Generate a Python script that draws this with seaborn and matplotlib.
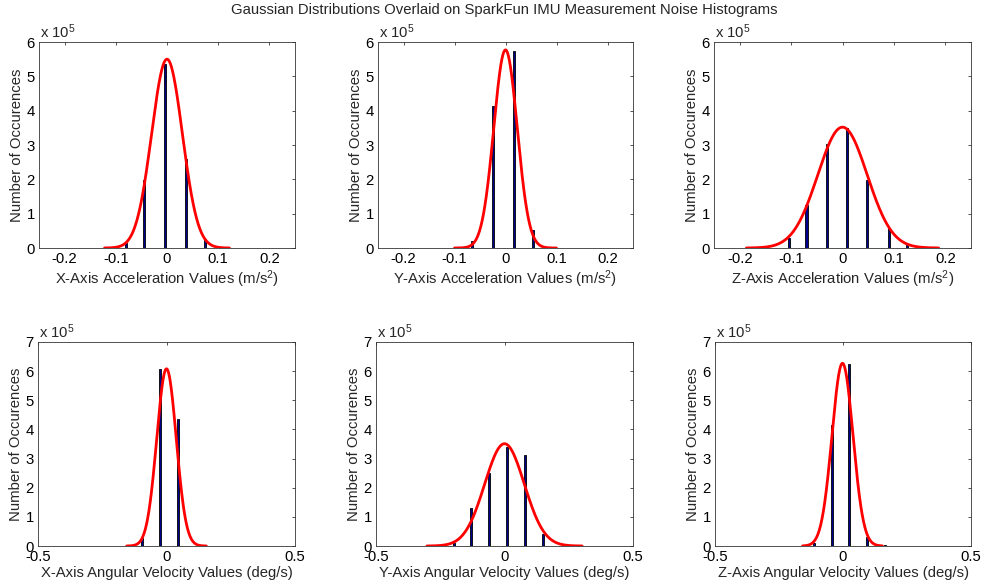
import numpy as np
import pandas as pd
import matplotlib
matplotlib.use("Agg")
import matplotlib.pyplot as plt
import seaborn as sns
from matplotlib.ticker import FuncFormatter, FormatStrFormatter

# histogram bars (bin centre, count)
xacc_pos = [-0.081, -0.044, -0.004, 0.037, 0.075, 0.151]
xacc_cnt = [15000, 199000, 535000, 259000, 26000, 1000]
yacc_pos = [-0.065, -0.024, 0.016, 0.054, 0.133]
yacc_cnt = [19000, 413000, 575000, 52000, 1000]
zacc_pos = [-0.104, -0.070, -0.031, 0.008, 0.047, 0.091, 0.126]
zacc_cnt = [29000, 126000, 304000, 350000, 199000, 58000, 10000]
xgyr_pos = [-0.166, -0.095, -0.026, 0.045, 0.179]
xgyr_cnt = [1000, 26000, 609000, 437000, 1000]
ygyr_pos = [-0.195, -0.131, -0.062, 0.010, 0.079, 0.148]
ygyr_cnt = [9000, 129000, 249000, 340000, 312000, 40000]
zgyr_pos = [-0.182, -0.112, -0.044, 0.023, 0.094, 0.163]
zgyr_cnt = [1000, 9000, 414000, 626000, 32000, 2000]

# fitted gaussians: mean, sigma, peak count, half-span of drawn curve
gauss_mu = [0.0, 0.0, 0.0, 0.0, 0.0, -0.002]
gauss_sigma = [0.030, 0.023, 0.048, 0.038, 0.077, 0.041]
gauss_peak = [550000, 577000, 352000, 608000, 351000, 627000]
gauss_span = [0.122, 0.100, 0.187, 0.155, 0.302, 0.156]

xlabels = ['X-Axis Acceleration Values (m/s$^2$)',
           'Y-Axis Acceleration Values (m/s$^2$)',
           'Z-Axis Acceleration Values (m/s$^2$)',
           'X-Axis Angular Velocity Values (deg/s)',
           'Y-Axis Angular Velocity Values (deg/s)',
           'Z-Axis Angular Velocity Values (deg/s)']
acc_xticks = [-0.2, -0.1, 0, 0.1, 0.2]
gyr_xticks = [-0.5, 0, 0.5]

sns.set_theme(style="white")
plt.rcParams.update({
    'font.family': ['Liberation Sans', 'DejaVu Sans'],
    'mathtext.fontset': 'custom',
    'mathtext.rm': 'Liberation Sans',
    'mathtext.it': 'Liberation Sans:italic',
    'axes.unicode_minus': False,
    'xtick.direction': 'in', 'ytick.direction': 'in',
    'xtick.top': True, 'ytick.right': True,
    'xtick.major.size': 2.5, 'ytick.major.size': 2.5,
    'xtick.major.width': 0.6, 'ytick.major.width': 0.6,
    'xtick.color': '#333333', 'ytick.color': '#333333',
    'xtick.labelcolor': 'black', 'ytick.labelcolor': 'black',
    'axes.edgecolor': '#333333', 'axes.linewidth': 0.6,
})

W, H = 983, 586
fig = plt.figure(figsize=(W / 100, H / 100), dpi=100, facecolor='white')

# axes boxes in pixels: left, top, right, bottom
boxes = [(39, 42, 295, 248), (378, 42, 633, 248), (714, 42, 971, 248),
         (38, 342, 295, 546), (376, 342, 633, 546), (715, 342, 971, 546)]
bars = [(xacc_pos, xacc_cnt), (yacc_pos, yacc_cnt), (zacc_pos, zacc_cnt),
        (xgyr_pos, xgyr_cnt), (ygyr_pos, ygyr_cnt), (zgyr_pos, zgyr_cnt)]

for i, (box, (pos, cnt)) in enumerate(zip(boxes, bars)):
    l, t, r, b = box
    ax = fig.add_axes([l / W, 1 - b / H, (r - l) / W, (b - t) / H])
    top_row = i < 3
    width = 0.004 if top_row else 0.008
    ax.bar(pos, cnt, width=width, color='#00008F', edgecolor='black', linewidth=0.6, zorder=2)

    mu, sd, pk, sp = gauss_mu[i], gauss_sigma[i], gauss_peak[i], gauss_span[i]
    xs = np.linspace(mu - sp, mu + sp, 300)
    curve = pd.DataFrame({'x': xs, 'y': pk * np.exp(-(xs - mu) ** 2 / (2 * sd ** 2))})
    sns.lineplot(data=curve, x='x', y='y', ax=ax, color='red', linewidth=2, zorder=3)

    if top_row:
        ax.set_xlim(-0.25, 0.25)
        ax.set_xticks(acc_xticks)
        ax.set_ylim(0, 6e5)
        ax.set_yticks(np.arange(0, 7) * 1e5)
    else:
        ax.set_xlim(-0.5, 0.5)
        ax.set_xticks(gyr_xticks)
        ax.set_ylim(0, 7e5)
        ax.set_yticks(np.arange(0, 8) * 1e5)
    ax.xaxis.set_major_formatter(FormatStrFormatter('%g'))
    ax.yaxis.set_major_formatter(FuncFormatter(lambda v, p: '%g' % (v / 1e5)))
    ax.tick_params(labelsize=10.7, pad=3)

    ax.set_xlabel(xlabels[i], fontsize=10.7)
    ax.set_ylabel('Number of Occurences', fontsize=10.7)
    ax.yaxis.set_label_coords(-0.085, 0.5)
    ax.yaxis.label.set_va('center')
    ax.xaxis.set_label_coords(0.5, -0.15 if top_row else -0.13)
    ax.xaxis.label.set_va('center')
    ax.text(0.005, 1.005, 'x 10$^5$', transform=ax.transAxes, fontsize=10.7,
            ha='left', va='bottom')

fig.text(0.513, 0.983, 'Gaussian Distributions Overlaid on SparkFun IMU Measurement Noise Histograms',
         ha='center', va='center', fontsize=10.7)

plt.savefig('out.png', dpi=100, facecolor='white')
plt.close()
